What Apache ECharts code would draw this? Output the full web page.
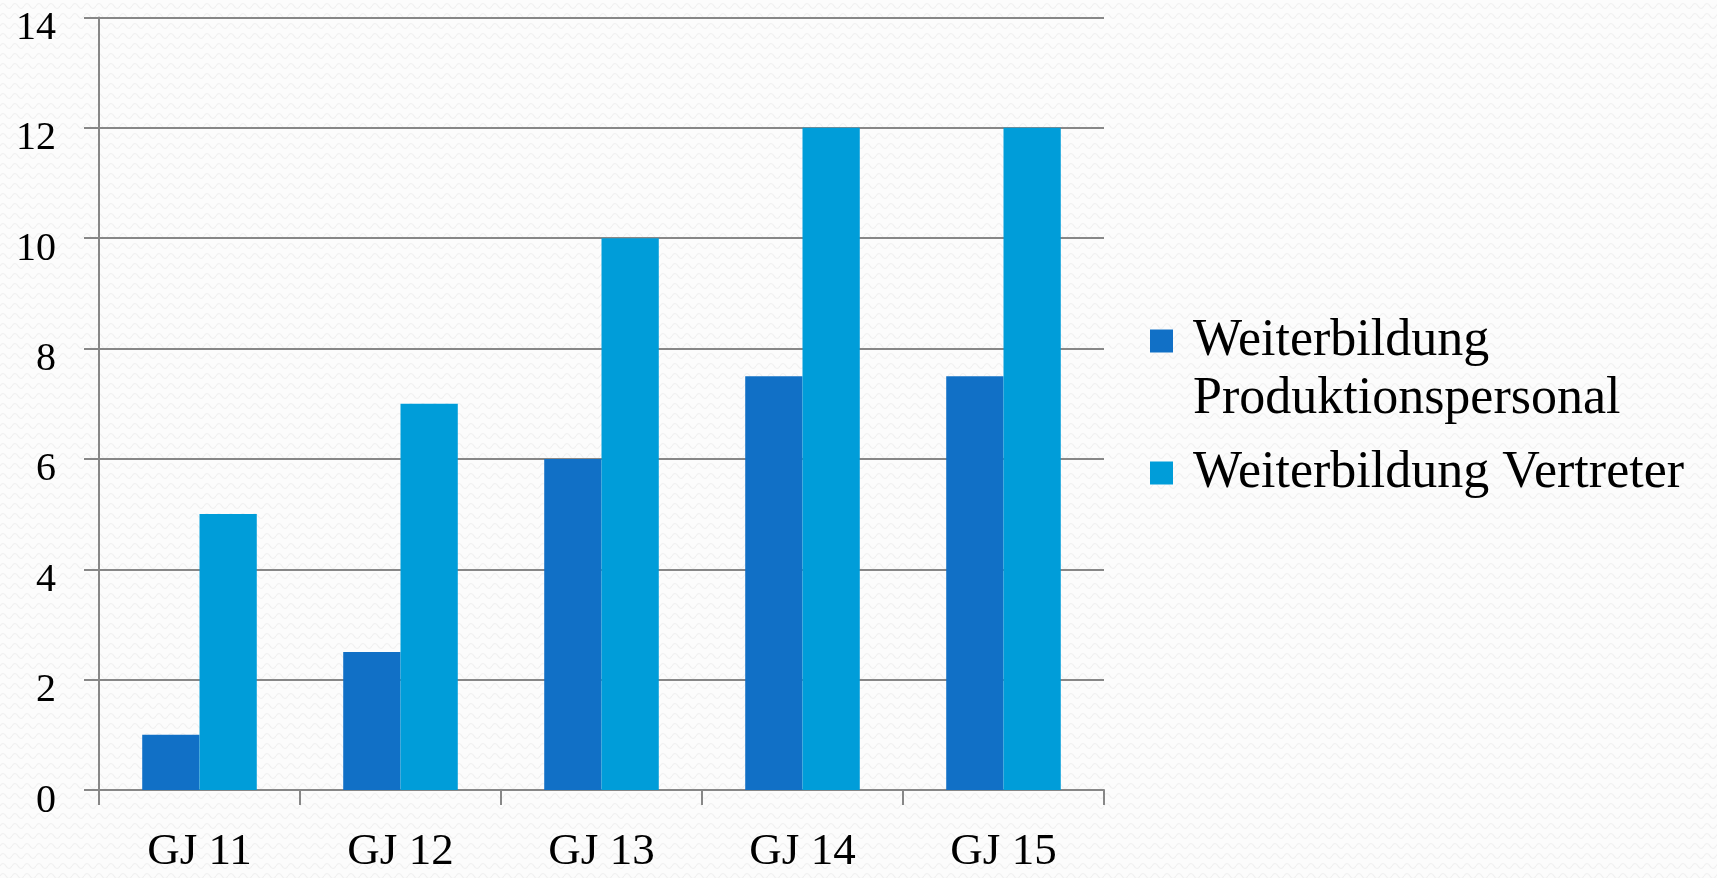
<!DOCTYPE html>
<html>
<head>
<meta charset="utf-8">
<script src="https://cdn.jsdelivr.net/npm/echarts@6/dist/echarts.min.js"></script>
<style>
html,body{margin:0;padding:0;background:#fbfbfb;}
#chart{width:1717px;height:878px;}
</style>
</head>
<body>
<div id="chart"></div>
<script>
const categories = ['GJ 11', 'GJ 12', 'GJ 13', 'GJ 14', 'GJ 15'];
const produktionspersonal = [1, 2.5, 6, 7.5, 7.5];
const vertreter = [5, 7, 10, 12, 12];
const seriesNames = ['Weiterbildung\nProduktionspersonal', 'Weiterbildung Vertreter'];
const yTicks = { min: 0, max: 14, interval: 2 };

// faint wavy background texture
const pat = document.createElement('canvas');
pat.width = 12; pat.height = 10;
const pc = pat.getContext('2d');
pc.fillStyle = '#fcfcfc';
pc.fillRect(0, 0, 12, 10);
pc.strokeStyle = '#efefef';
pc.lineWidth = 1.2;
pc.beginPath();
pc.moveTo(0, 6);
pc.quadraticCurveTo(3, 1, 6, 6);
pc.quadraticCurveTo(9, 11, 12, 6);
pc.stroke();

// square icon with blank space to its right (bounds 38 x 23)
const legendIcon = 'path://M0,0L23,0L23,23L0,23Z M38,23';

const chart = echarts.init(document.getElementById('chart'));
const font = '"Liberation Serif", "DejaVu Serif", serif';
const legendText = { fontFamily: font, fontSize: 52, color: '#000', lineHeight: 58 };
chart.setOption({
  backgroundColor: { image: pat, repeat: 'repeat' },
  animation: false,
  textStyle: { fontFamily: font },
  grid: { left: 99, right: 613, top: 17.5, bottom: 88, containLabel: false },
  legend: [
    {
      data: [seriesNames[0]],
      formatter: function (name) { return '\n' + name; },
      orient: 'vertical',
      left: 1150,
      top: 254,
      padding: 0,
      itemWidth: 38,
      itemHeight: 23,
      icon: legendIcon,
      textStyle: legendText
    },
    {
      data: [seriesNames[1]],
      orient: 'vertical',
      left: 1150,
      top: 444,
      padding: 0,
      itemWidth: 38,
      itemHeight: 23,
      icon: legendIcon,
      textStyle: legendText
    }
  ],
  xAxis: {
    type: 'category',
    data: categories,
    axisLine: { lineStyle: { color: '#878787', width: 2 } },
    axisTick: { show: true, length: 15, lineStyle: { color: '#878787', width: 2 } },
    axisLabel: { fontFamily: font, fontSize: 45, color: '#000', margin: 40 },
    splitLine: { show: false }
  },
  yAxis: {
    type: 'value',
    min: yTicks.min,
    max: yTicks.max,
    interval: yTicks.interval,
    axisLine: { show: true, lineStyle: { color: '#878787', width: 2 } },
    axisTick: { show: true, length: 15, lineStyle: { color: '#878787', width: 2 } },
    axisLabel: {
      margin: 43,
      formatter: function (v) { return '{n|' + v + '}'; },
      rich: { n: { fontFamily: font, fontSize: 40, color: '#000', padding: [22, 0, 0, 0] } }
    },
    splitLine: { show: true, lineStyle: { color: '#878787', width: 2 } }
  },
  series: [
    {
      name: seriesNames[0],
      type: 'bar',
      data: produktionspersonal,
      itemStyle: { color: '#1170C6' },
      barGap: '0%',
      barCategoryGap: '43%'
    },
    {
      name: seriesNames[1],
      type: 'bar',
      data: vertreter,
      itemStyle: { color: '#009DD9' },
      barGap: '0%',
      barCategoryGap: '43%'
    }
  ]
});
</script>
</body>
</html>
